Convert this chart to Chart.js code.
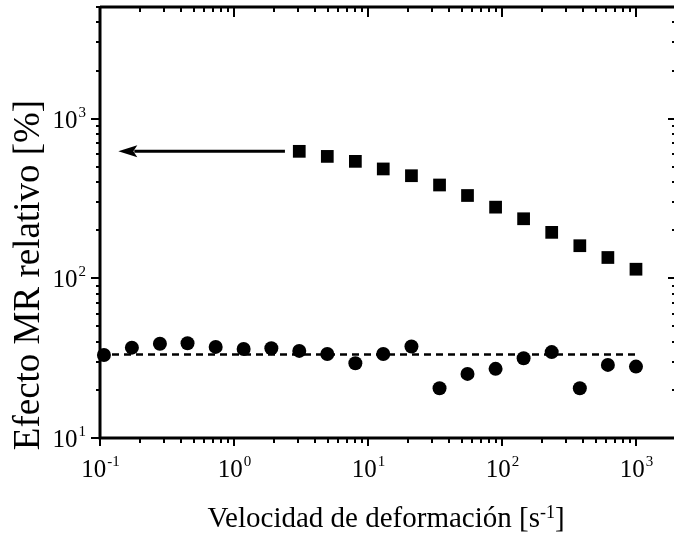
<!DOCTYPE html>
<html lang="es">
  <head>
    <meta charset="UTF-8" />
    <title>Efecto MR relativo</title>
    <style>
      html,
      body {
        margin: 0;
        padding: 0;
        overflow: hidden;
        background: #fff;
      }
      #wrap {
        position: relative;
        width: 674px;
        height: 540px;
      }
    </style>
    <script src="https://cdn.jsdelivr.net/npm/chart.js"></script>
  </head>
  <body>
    <div id="wrap"><canvas id="mrChart"></canvas></div>

    <script>
      // velocidad de deformación [s^-1] y efecto MR relativo [%]
      const rateCircles = [0.107, 0.173, 0.28, 0.45, 0.73, 1.18, 1.9, 3.07, 4.97, 8.05, 13.0, 21.1, 34.2, 55.3, 89.6, 145, 235, 381, 617, 1000];
      const mrCircles = [33.1, 36.8, 38.9, 39.2, 37.2, 36.1, 36.5, 35.1, 33.6, 29.4, 33.6, 37.4, 20.5, 25.2, 27.1, 31.6, 34.5, 20.5, 28.7, 28.0];
      const rateSquares = [3.07, 4.97, 8.05, 13.0, 21.1, 34.2, 55.3, 89.6, 145, 235, 381, 617, 1000];
      const mrSquares = [624, 580, 540, 484, 439, 384, 330, 279, 236, 194, 160, 135, 114];
      // linea de promedio (discontinua)
      const meanX = [0.1, 1000];
      const meanY = [33.3, 33.3];
      // exponentes de las etiquetas
      const xTickExps = [-1, 0, 1, 2, 3];
      const yTickExps = [1, 2, 3];
      // flecha: de (x, y) a (x, y)
      const arrowFrom = [2.4, 624];
      const arrowTo = [0.137, 624];

      const toPoints = (xs, ys) => xs.map((v, i) => ({ x: v, y: ys[i] }));

      const serif = "'Liberation Serif', 'Times New Roman', serif";

      // dibuja 10^n con el exponente elevado
      function drawPow(ctx, exp, x, baseline, align) {
        ctx.font = "25px " + serif;
        const wb = ctx.measureText("10").width;
        ctx.font = "15px " + serif;
        const we = ctx.measureText(exp).width;
        const left = align === "center" ? x - (wb + we) / 2 : x - wb - we;
        ctx.font = "25px " + serif;
        ctx.fillText("10", left, baseline);
        ctx.font = "15px " + serif;
        ctx.fillText(exp, left + wb + 1, baseline - 11);
      }

      function logTicks(min, max) {
        const out = [];
        for (let e = Math.floor(Math.log10(min)); e <= Math.ceil(Math.log10(max)); e++) {
          for (let m = 1; m <= 9; m++) {
            const v = m * Math.pow(10, e);
            if (v >= min * 0.999 && v <= max * 1.001) out.push({ v: v, major: m === 1 });
          }
        }
        return out;
      }

      const axesPlugin = {
        id: "axesPlugin",
        afterDraw(chart) {
          const { ctx, chartArea: a } = chart;
          const xs = chart.scales.x;
          const ys = chart.scales.y;
          ctx.save();
          ctx.strokeStyle = "#000";
          ctx.fillStyle = "#000";

          // marco (el eje derecho queda fuera de la imagen)
          ctx.lineWidth = 3;
          ctx.beginPath();
          ctx.moveTo(a.left, a.top);
          ctx.lineTo(a.left, a.bottom);
          ctx.lineTo(a.right, a.bottom);
          ctx.moveTo(a.left, a.top);
          ctx.lineTo(a.right, a.top);
          ctx.stroke();

          // marcas
          ctx.lineWidth = 2;
          ctx.beginPath();
          logTicks(xs.min, xs.max).forEach((t) => {
            const px = Math.round(xs.getPixelForValue(t.v));
            ctx.moveTo(px, a.bottom);
            ctx.lineTo(px, a.bottom + (t.major ? 8 : 5));
            ctx.moveTo(px, a.top);
            ctx.lineTo(px, a.top + (t.major ? 10 : 5));
          });
          logTicks(ys.min, ys.max).forEach((t) => {
            const py = Math.round(ys.getPixelForValue(t.v));
            ctx.moveTo(a.left, py);
            ctx.lineTo(a.left - (t.major ? 9 : 4), py);
            ctx.moveTo(a.right + 1, py);
            ctx.lineTo(a.right + 1 - (t.major ? 7 : 3), py);
          });
          ctx.stroke();

          // etiquetas
          ctx.textAlign = "left";
          ctx.textBaseline = "alphabetic";
          xTickExps.forEach((e) => {
            drawPow(ctx, String(e), xs.getPixelForValue(Math.pow(10, e)), 477, "center");
          });
          yTickExps.forEach((e) => {
            drawPow(ctx, String(e), 85, ys.getPixelForValue(Math.pow(10, e)) + 9, "right");
          });

          // titulo eje x
          const t1 = "Velocidad de deformación [s";
          const sup = "-1";
          const t2 = "]";
          ctx.font = "29px " + serif;
          const w1 = ctx.measureText(t1).width;
          const w2 = ctx.measureText(t2).width;
          ctx.font = "18px " + serif;
          const ws = ctx.measureText(sup).width;
          let left = 386 - (w1 + ws + w2) / 2;
          ctx.font = "29px " + serif;
          ctx.fillText(t1, left, 527);
          ctx.fillText(t2, left + w1 + ws, 527);
          ctx.font = "18px " + serif;
          ctx.fillText(sup, left + w1, 518);

          // titulo eje y
          ctx.save();
          ctx.translate(39, 275);
          ctx.rotate(-Math.PI / 2);
          ctx.textAlign = "center";
          ctx.font = "37px " + serif;
          ctx.fillText("Efecto MR relativo [%]", 0, 0);
          ctx.restore();

          // flecha
          const ax0 = xs.getPixelForValue(arrowFrom[0]);
          const ay0 = ys.getPixelForValue(arrowFrom[1]);
          const ax1 = xs.getPixelForValue(arrowTo[0]);
          const ay1 = ys.getPixelForValue(arrowTo[1]);
          ctx.lineWidth = 3;
          ctx.beginPath();
          ctx.moveTo(ax0, ay0);
          ctx.lineTo(ax1 + 16, ay1);
          ctx.stroke();
          ctx.beginPath();
          ctx.moveTo(ax1, ay1);
          ctx.lineTo(ax1 + 19, ay1 - 6);
          ctx.lineTo(ax1 + 15, ay1);
          ctx.lineTo(ax1 + 19, ay1 + 6);
          ctx.closePath();
          ctx.fill();

          ctx.restore();
        },
      };

      const ctx = document.getElementById("mrChart").getContext("2d");
      new Chart(ctx, {
        type: "scatter",
        data: {
          datasets: [
            {
              label: "promedio",
              data: toPoints(meanX, meanY),
              showLine: true,
              borderColor: "#000",
              borderWidth: 2.5,
              borderDash: [7, 5],
              pointRadius: 0,
              clip: false,
            },
            {
              label: "cuadrados",
              data: toPoints(rateSquares, mrSquares),
              pointStyle: "rect",
              pointRadius: 9,
              backgroundColor: "#000",
              borderWidth: 0,
              clip: false,
            },
            {
              label: "circulos",
              data: toPoints(rateCircles, mrCircles),
              pointStyle: "circle",
              pointRadius: 7,
              backgroundColor: "#000",
              borderWidth: 0,
              clip: false,
            },
          ],
        },
        options: {
          responsive: true,
          maintainAspectRatio: false,
          animation: false,
          layout: { autoPadding: false, padding: { top: 7, right: 0, left: 0, bottom: 0 } },
          plugins: {
            legend: { display: false },
            tooltip: { enabled: false },
          },
          scales: {
            x: {
              type: "logarithmic",
              min: 0.1,
              max: 1922,
              grid: { display: false },
              border: { display: false },
              ticks: { display: false },
              afterFit: (scale) => {
                scale.height = 102;
              },
            },
            y: {
              type: "logarithmic",
              min: 10,
              max: 5000,
              grid: { display: false },
              border: { display: false },
              ticks: { display: false },
              afterFit: (scale) => {
                scale.width = 100;
              },
            },
          },
        },
        plugins: [axesPlugin],
      });
    </script>
  </body>
</html>
